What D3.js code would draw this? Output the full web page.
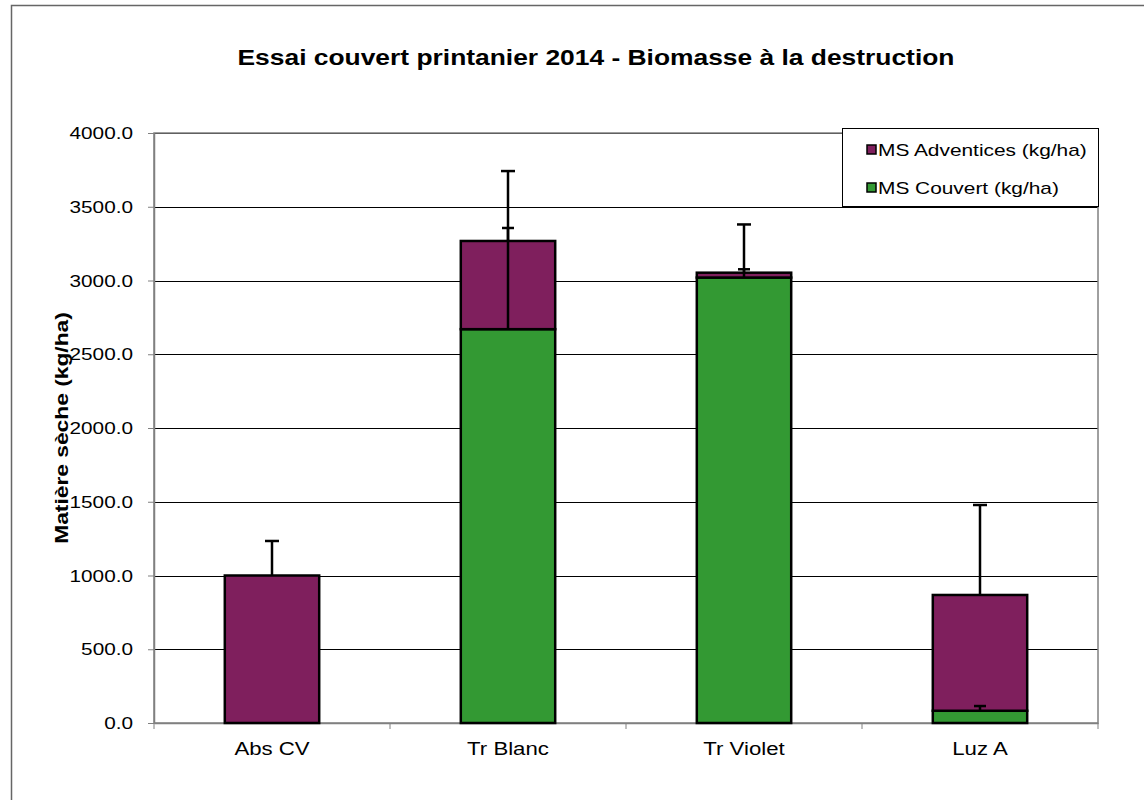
<!DOCTYPE html>
<html>
<head>
<meta charset="utf-8">
<script src="https://cdn.jsdelivr.net/npm/d3@7"></script>
<style>
body { margin: 0; background: #fff; }
text { font-family: Arial, "Liberation Sans", sans-serif; }
</style>
</head>
<body>
<script>
const categories = ['Abs CV', 'Tr Blanc', 'Tr Violet', 'Luz A'];
// stacked series, bottom first
const couvert = [0, 2670, 3020, 83];
const adventices = [1000, 598, 33, 785];
// error bar amounts (added on the top of each segment)
const couvertErr = [0, 686, 56, 32];
const adventicesErr = [234, 474, 327, 610];
const yTicks = [0, 500, 1000, 1500, 2000, 2500, 3000, 3500, 4000];

const seriesNames = ['MS Adventices (kg/ha)', 'MS Couvert (kg/ha)'];
const colorAdv = '#7f1f5d';
const colorCouv = '#339933';

// the original text is a bit wider than plain Arial
const stretch = 1.2;

const svgWidth = 1144;
const svgHeight = 800;
const margin = {left: 154, right: 46, top: 133, bottom: 77};
const width = svgWidth - margin.left - margin.right;
const height = svgHeight - margin.top - margin.bottom;

const svg = d3.select('body')
.append('svg')
.attr('width', svgWidth)
.attr('height', svgHeight)

// outer chart frame
svg.append('rect')
.attr('x', 11.5).attr('y', 5.5)
.attr('width', svgWidth).attr('height', svgHeight)
.attr('fill', 'none')
.attr('stroke', '#666')
.attr('stroke-width', 1.5)

svg.append('text')
.attr('transform', `translate(596, 65) scale(${stretch}, 1)`)
.attr('text-anchor', 'middle')
.style('font-size', '22px')
.style('font-weight', 'bold')
.text('Essai couvert printanier 2014 - Biomasse à la destruction')

const g = svg.append('g')
.attr('transform', `translate(${margin.left}, ${margin.top})`)

const x = d3.scaleBand().domain(categories).range([0, width]).paddingInner(0.6).paddingOuter(0.3);
const xOuter = d3.scaleBand().domain(categories).range([0, width]);
const y = d3.scaleLinear().domain([0, 4000]).range([height, 0]);

// gridlines
g.append('g')
.selectAll('line')
.data(yTicks.filter((d) => d > 0))
.enter().append('line')
.attr('x1', 0).attr('x2', width)
.attr('y1', (d) => Math.round(y(d)) + 0.5)
.attr('y2', (d) => Math.round(y(d)) + 0.5)
.attr('stroke', '#000')
.attr('stroke-width', 1)

// plot frame
g.append('rect')
.attr('x', 0).attr('y', 0)
.attr('width', width).attr('height', height)
.attr('fill', 'none')
.attr('stroke', '#808080')
.attr('stroke-width', 1.5)

// y axis
const yAxis = g.append('g')
.call(d3.axisLeft(y).tickValues(yTicks).tickFormat(d3.format('.1f')).tickSizeInner(6).tickSizeOuter(0).tickPadding(11.5))
yAxis.select('.domain').attr('stroke', '#808080').attr('stroke-width', 1.5)
yAxis.selectAll('.tick line').attr('stroke', '#808080')
yAxis.selectAll('text')
.style('font-size', '17.3px')
.attr('fill', '#000')
.attr('transform', `scale(${stretch}, 1)`)

// x axis: ticks at category boundaries
const xAxis = g.append('g')
.attr('transform', `translate(0, ${height})`)
.call(d3.axisBottom(xOuter).tickSize(0).tickPadding(19))
xAxis.select('.domain').attr('stroke', '#808080').attr('stroke-width', 1.5)
xAxis.selectAll('text')
.style('font-size', '18.5px')
.attr('fill', '#000')
.attr('transform', `scale(${stretch}, 1)`)
g.append('g')
.selectAll('line')
.data(d3.range(categories.length + 1))
.enter().append('line')
.attr('x1', (i) => i * xOuter.step()).attr('x2', (i) => i * xOuter.step())
.attr('y1', height).attr('y2', height + 6)
.attr('stroke', '#808080')

svg.append('text')
.attr('transform', `translate(68, ${margin.top + height / 2}) rotate(-90) scale(${stretch}, 1)`)
.attr('text-anchor', 'middle')
.style('font-size', '19px')
.style('font-weight', 'bold')
.text('Matière sèche (kg/ha)')

const rows = categories.map((c, i) => ({
    cat: c,
    c0: 0, c1: couvert[i],
    a0: couvert[i], a1: couvert[i] + adventices[i],
    ce: couvertErr[i], ae: adventicesErr[i]
}))

const bars = g.append('g')
const errs = [];
rows.forEach((r) => {
    if (r.c1 > 0) errs.push({cat: r.cat, v: r.c1, e: r.ce, cap: 10});
    errs.push({cat: r.cat, v: r.a1, e: r.ae, cap: 12});
})

bars.selectAll('rect.couv')
.data(rows.filter((r) => r.c1 > 0)).enter()
.append('rect')
.attr('x', (d) => x(d.cat))
.attr('width', x.bandwidth())
.attr('y', (d) => y(d.c1))
.attr('height', (d) => y(d.c0) - y(d.c1))
.attr('fill', colorCouv)
.attr('stroke', '#000')
.attr('stroke-width', 2.5)

bars.selectAll('rect.adv')
.data(rows).enter()
.append('rect')
.attr('x', (d) => x(d.cat))
.attr('width', x.bandwidth())
.attr('y', (d) => y(d.a1))
.attr('height', (d) => y(d.a0) - y(d.a1))
.attr('fill', colorAdv)
.attr('stroke', '#000')
.attr('stroke-width', 2.5)

const errG = g.append('g')
.attr('stroke', '#000')
.attr('stroke-width', 2.5)
errG.selectAll('line.stem')
.data(errs).enter()
.append('line')
.attr('x1', (d) => x(d.cat) + x.bandwidth() / 2)
.attr('x2', (d) => x(d.cat) + x.bandwidth() / 2)
.attr('y1', (d) => y(d.v))
.attr('y2', (d) => y(d.v + d.e))
errG.selectAll('line.cap')
.data(errs).enter()
.append('line')
.attr('x1', (d) => x(d.cat) + x.bandwidth() / 2 - d.cap / 2 - 1)
.attr('x2', (d) => x(d.cat) + x.bandwidth() / 2 + d.cap / 2 + 1)
.attr('y1', (d) => y(d.v + d.e))
.attr('y2', (d) => y(d.v + d.e))

// legend
const legend = svg.append('g').attr('transform', 'translate(842, 128)')
legend.append('rect')
.attr('x', 0.5).attr('y', 0.5)
.attr('width', 256).attr('height', 78)
.attr('fill', '#fff')
.attr('stroke', '#000')
.attr('stroke-width', 1)
const legColors = [colorAdv, colorCouv];
seriesNames.forEach((name, i) => {
    const ly = 22 + i * 38;
    legend.append('rect')
    .attr('x', 25).attr('y', ly - 5)
    .attr('width', 9).attr('height', 9)
    .attr('fill', legColors[i])
    .attr('stroke', '#000')
    .attr('stroke-width', 1.5)
    legend.append('text')
    .attr('transform', `translate(36, ${ly + 6}) scale(${stretch}, 1)`)
    .style('font-size', '17.4px')
    .text(name)
})
</script>
</body>
</html>
